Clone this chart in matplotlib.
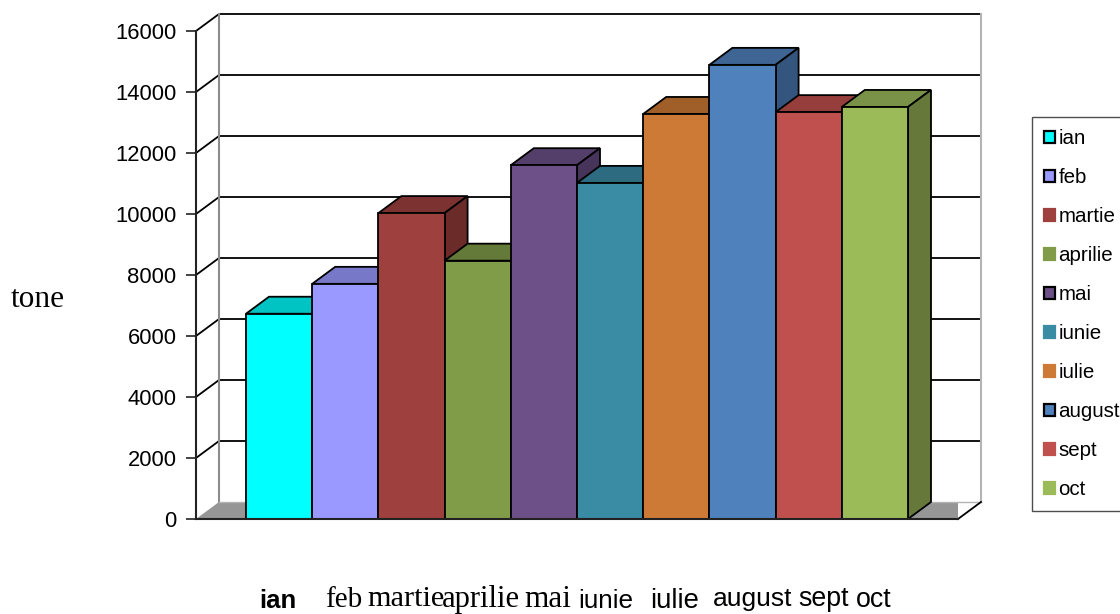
#!/usr/bin/env python3
"""Pseudo-3D monthly bar chart (tone per month), saved as out.png."""

import matplotlib
matplotlib.use("Agg")
import matplotlib.pyplot as plt
from matplotlib.patches import Patch, Polygon

months = ["ian", "feb", "martie", "aprilie", "mai", "iunie", "iulie", "august", "sept", "oct"]
values = [6730, 7710, 10030, 8470, 11600, 11020, 13280, 14890, 13340, 13510]
y_ticks = [0, 2000, 4000, 6000, 8000, 10000, 12000, 14000, 16000]

front_colors = ["#00ffff", "#9999ff", "#9e413e", "#809c48", "#6c5087", "#3a8ba4",
                "#cc7a35", "#4f81bd", "#c0504d", "#9bbb59"]
top_colors = ["#00c4c4", "#7878c8", "#7c3230", "#647a38", "#543e6a", "#2d6c80",
              "#a05f29", "#3e6594", "#963e3c", "#799247"]
side_colors = ["#00a0a0", "#6262a4", "#6a2b29", "#556830", "#47345a", "#265c6d",
               "#884f22", "#34567e", "#803533", "#67793a"]
legend_edges = ["black", "black", "#9e413e", "#809c48", "black", "#3a8ba4",
                "#cc7a35", "black", "#c0504d", "#9bbb59"]

W, H = 1120, 614
# pixel layout of the front plane
LEFT, RIGHT, BOTTOM, TOP = 196, 958, 519, 31
BAR_PX = 66.2
DEPTH_X_PX, DEPTH_Y_PX = 23, 17


def fx(px):
    return px / W


def fy(py):
    return 1 - py / H


fig = plt.figure(figsize=(W / 100, H / 100), dpi=100)
plt.rcParams["font.family"] = ["Liberation Sans", "DejaVu Sans"]
ax = fig.add_axes([fx(LEFT), fy(BOTTOM), (RIGHT - LEFT) / W, (BOTTOM - TOP) / H])
ax.patch.set_visible(False)

side_units = (246 - LEFT) / BAR_PX
ax.set_xlim(-0.5 - side_units, 9.5 + side_units)
ax.set_ylim(0, 16000)
dx = DEPTH_X_PX / BAR_PX
dy = DEPTH_Y_PX * 16000 / (BOTTOM - TOP)
x0, x1 = ax.get_xlim()

# floor
ax.add_patch(Polygon([(x0, 0), (x1, 0), (x1 + dx, dy), (x0 + dx, dy)],
                     closed=True, facecolor="#969696", edgecolor="none", zorder=1))

# grid on back wall and left wall
for v in y_ticks[1:]:
    ax.plot([x0, x0 + dx, x1 + dx], [v, v + dy, v + dy], color="black", lw=1.3,
            clip_on=False, zorder=2)
ax.plot([x0 + dx, x0 + dx], [dy, 16000 + dy], color="#8c8c8c", lw=1.5, clip_on=False, zorder=2)
ax.plot([x1 + dx, x1 + dx], [dy, 16000 + dy], color="#b4b4b4", lw=1.5, clip_on=False, zorder=2)
ax.plot([x0 + dx, x1 + dx], [dy, dy], color="#b4b4b4", lw=1.0, clip_on=False, zorder=2)
ax.plot([x1, x1 + dx], [0, dy], color="black", lw=1.3, clip_on=False, zorder=2)

# bars, back to front so that the side faces get covered by the next bar
for i, v in enumerate(values):
    l, r = i - 0.5, i + 0.5
    ax.add_patch(Polygon([(l, v), (r, v), (r + dx, v + dy), (l + dx, v + dy)], closed=True,
                         facecolor=top_colors[i], edgecolor="black", lw=1.3,
                         clip_on=False, zorder=3 + i))
    ax.add_patch(Polygon([(r, 0), (r + dx, dy), (r + dx, v + dy), (r, v)], closed=True,
                         facecolor=side_colors[i], edgecolor="black", lw=1.3,
                         clip_on=False, zorder=3 + i))
    ax.bar(i, v, width=1.0, color=front_colors[i], edgecolor="black", lw=1.3,
           clip_on=False, zorder=3 + i + 0.5)

for name in ["top", "right"]:
    ax.spines[name].set_visible(False)
ax.spines["left"].set_color("#222222")
ax.spines["left"].set_linewidth(1.5)
ax.spines["bottom"].set_color("#222222")
ax.spines["bottom"].set_linewidth(1.5)
ax.spines["bottom"].set_zorder(30)
ax.set_xticks([])
ax.set_yticks(y_ticks)
ax.tick_params(axis="y", length=7, width=1.2, color="#222222", labelsize=15.8, pad=7)

fig.text(fx(37.5), fy(307), "tone", family="Liberation Serif", fontsize=22.6,
         ha="center", va="baseline")

# category labels along the bottom, each one styled on its own in the source
label_x = [278, 344, 406, 481, 548, 606, 675, 753, 824, 874]
label_y = [608, 607, 606, 607, 607, 608, 608, 606, 606, 607]
label_family = ["Liberation Sans", "Liberation Serif", "Liberation Serif", "Liberation Serif",
                "Liberation Serif", "Liberation Sans", "Liberation Sans", "Liberation Sans",
                "Liberation Sans", "Liberation Sans"]
label_size = [18.5, 21, 21.8, 22, 22.5, 18.8, 19.8, 19, 19.3, 19.3]
label_weight = ["bold"] + ["normal"] * 9
for i, name in enumerate(months):
    fig.text(fx(label_x[i]), fy(label_y[i]), name, family=label_family[i], fontsize=label_size[i],
             weight=label_weight[i], ha="center", va="baseline")

handles = [Patch(facecolor=front_colors[i], edgecolor=legend_edges[i], lw=1.6, label=months[i])
           for i in range(len(months))]
leg = fig.legend(handles=handles, loc="upper left", bbox_to_anchor=(fx(1032), fy(117)),
                 borderaxespad=0, fontsize=14.8, frameon=True, fancybox=False,
                 edgecolor="#222222", handlelength=0.54, handleheight=0.54, handletextpad=0.14,
                 labelspacing=0.971, borderpad=0.6)
leg.get_frame().set_linewidth(1.0)

fig.savefig("out.png", dpi=100)
